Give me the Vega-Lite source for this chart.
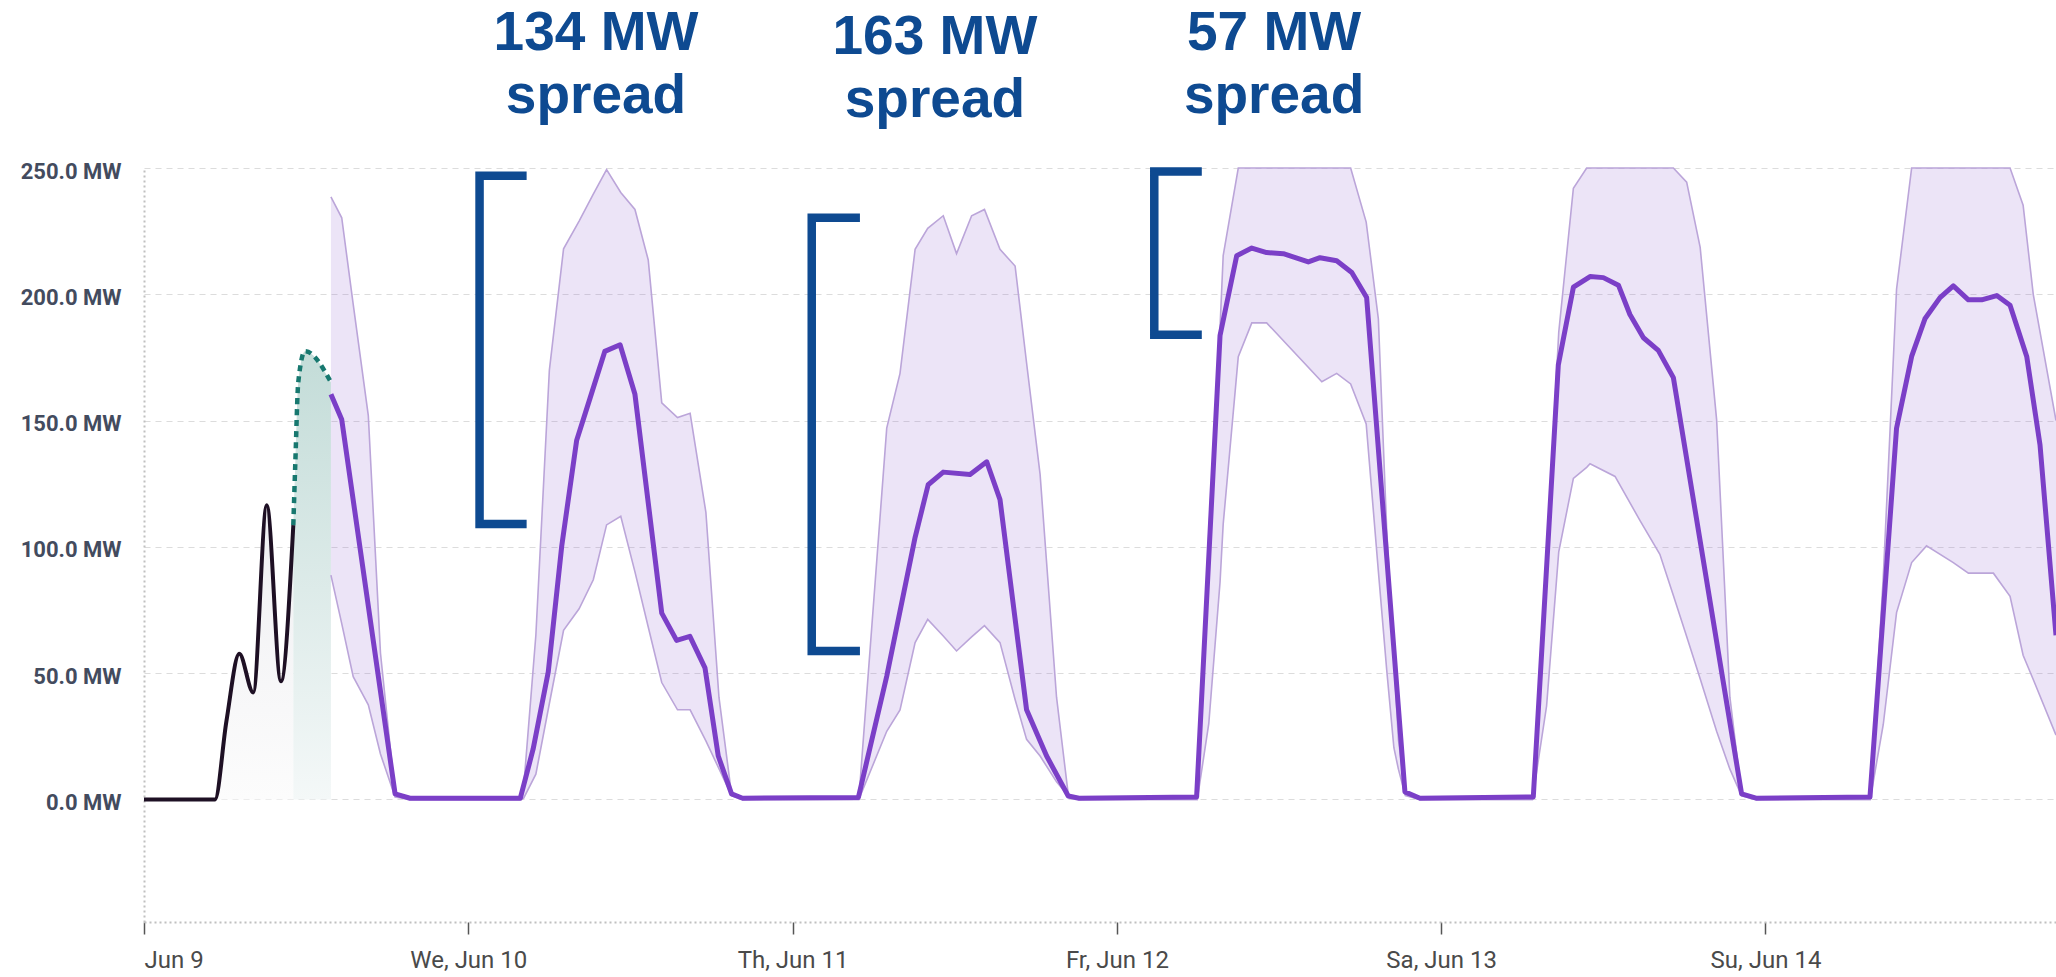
{
  "$schema": "https://vega.github.io/schema/vega-lite/v6.json",
  "width": 1912,
  "height": 754,
  "autosize": {"type": "none"},
  "padding": {"left": 144, "top": 168, "right": 0, "bottom": 55},
  "background": "white",
  "config": {
    "view": {"stroke": null},
    "axisY": {
      "grid": true,
      "gridColor": "#dcdcdc",
      "gridDash": [6, 5],
      "gridWidth": 1.2,
      "domain": true,
      "domainColor": "#c0c0c0",
      "domainDash": [2, 3],
      "domainWidth": 2,
      "ticks": false,
      "tickSize": 0,
      "labelPadding": 23,
      "labelFont": "Roboto",
      "labelFontSize": 22,
      "labelFontWeight": "bold",
      "labelColor": "#434b5e",
      "labelOffset": 3
    }
  },
  "datasets": {
    "actual": [
      {"t": "2020-06-09T00:00:00", "v": 0},
      {"t": "2020-06-09T05:15:00", "v": 0},
      {"t": "2020-06-09T06:06:00", "v": 31},
      {"t": "2020-06-09T07:03:00", "v": 57.7},
      {"t": "2020-06-09T08:05:00", "v": 42.4},
      {"t": "2020-06-09T09:05:00", "v": 116.5},
      {"t": "2020-06-09T10:08:00", "v": 46.8},
      {"t": "2020-06-09T11:03:00", "v": 108.6}
    ],
    "teal": [
      {"t": "2020-06-09T11:03:00", "v": 108.6},
      {"t": "2020-06-09T11:12:00", "v": 133.5},
      {"t": "2020-06-09T11:25:00", "v": 165.2},
      {"t": "2020-06-09T11:55:00", "v": 177.5},
      {"t": "2020-06-09T13:50:00", "v": 165.2}
    ],
    "median": [
      {"t": "2020-06-09T13:50:00", "v": 160.4},
      {"t": "2020-06-09T14:38:00", "v": 150.4},
      {"t": "2020-06-09T18:35:00", "v": 2.2},
      {"t": "2020-06-09T19:41:00", "v": 0.5},
      {"t": "2020-06-10T03:51:00", "v": 0.5},
      {"t": "2020-06-10T04:48:00", "v": 20},
      {"t": "2020-06-10T05:55:00", "v": 50.5},
      {"t": "2020-06-10T06:55:00", "v": 100.4},
      {"t": "2020-06-10T08:01:00", "v": 142.1},
      {"t": "2020-06-10T09:00:00", "v": 158.7},
      {"t": "2020-06-10T10:06:00", "v": 177.4},
      {"t": "2020-06-10T11:14:00", "v": 180},
      {"t": "2020-06-10T12:20:00", "v": 160.4},
      {"t": "2020-06-10T14:19:00", "v": 73.8},
      {"t": "2020-06-10T15:25:00", "v": 63},
      {"t": "2020-06-10T16:24:00", "v": 64.6},
      {"t": "2020-06-10T17:31:00", "v": 52.1},
      {"t": "2020-06-10T18:30:00", "v": 17.2},
      {"t": "2020-06-10T19:29:00", "v": 2.2},
      {"t": "2020-06-10T20:18:00", "v": 0.5},
      {"t": "2020-06-11T04:52:00", "v": 0.8},
      {"t": "2020-06-11T06:58:00", "v": 48.8},
      {"t": "2020-06-11T09:04:00", "v": 103.8},
      {"t": "2020-06-11T10:02:00", "v": 124.6},
      {"t": "2020-06-11T11:09:00", "v": 129.6},
      {"t": "2020-06-11T13:08:00", "v": 128.7},
      {"t": "2020-06-11T14:22:00", "v": 133.7},
      {"t": "2020-06-11T15:21:00", "v": 118.7},
      {"t": "2020-06-11T17:19:00", "v": 35.5},
      {"t": "2020-06-11T18:48:00", "v": 17.2},
      {"t": "2020-06-11T20:24:00", "v": 1.4},
      {"t": "2020-06-11T21:12:00", "v": 0.5},
      {"t": "2020-06-12T05:54:00", "v": 1},
      {"t": "2020-06-12T07:38:00", "v": 183.7},
      {"t": "2020-06-12T08:52:00", "v": 215.3},
      {"t": "2020-06-12T09:59:00", "v": 218.3},
      {"t": "2020-06-12T11:05:00", "v": 216.5},
      {"t": "2020-06-12T12:19:00", "v": 216.1},
      {"t": "2020-06-12T14:10:00", "v": 212.8},
      {"t": "2020-06-12T15:02:00", "v": 214.5},
      {"t": "2020-06-12T16:16:00", "v": 213.3},
      {"t": "2020-06-12T17:23:00", "v": 208.6},
      {"t": "2020-06-12T18:29:00", "v": 198.7},
      {"t": "2020-06-12T21:19:00", "v": 3},
      {"t": "2020-06-12T22:26:00", "v": 0.5},
      {"t": "2020-06-13T06:49:00", "v": 1},
      {"t": "2020-06-13T08:40:00", "v": 172},
      {"t": "2020-06-13T09:47:00", "v": 202.8},
      {"t": "2020-06-13T11:01:00", "v": 207},
      {"t": "2020-06-13T12:00:00", "v": 206.6},
      {"t": "2020-06-13T13:07:00", "v": 203.6},
      {"t": "2020-06-13T13:58:00", "v": 192},
      {"t": "2020-06-13T14:58:00", "v": 182.8},
      {"t": "2020-06-13T16:04:00", "v": 177.8},
      {"t": "2020-06-13T17:11:00", "v": 167},
      {"t": "2020-06-13T22:14:00", "v": 2.2},
      {"t": "2020-06-13T23:18:00", "v": 0.5},
      {"t": "2020-06-14T07:44:00", "v": 1},
      {"t": "2020-06-14T09:42:00", "v": 147},
      {"t": "2020-06-14T10:49:00", "v": 175.4},
      {"t": "2020-06-14T11:48:00", "v": 190.3},
      {"t": "2020-06-14T12:55:00", "v": 198.7},
      {"t": "2020-06-14T13:54:00", "v": 203.3},
      {"t": "2020-06-14T15:01:00", "v": 197.8},
      {"t": "2020-06-14T16:00:00", "v": 197.8},
      {"t": "2020-06-14T17:07:00", "v": 199.5},
      {"t": "2020-06-14T18:06:00", "v": 195.7},
      {"t": "2020-06-14T19:20:00", "v": 175.4},
      {"t": "2020-06-14T20:19:00", "v": 140.4},
      {"t": "2020-06-14T21:30:00", "v": 65}
    ],
    "band": [
      {"t": "2020-06-09T13:50:00", "hi": 238.6, "lo": 88.8},
      {"t": "2020-06-09T14:38:00", "hi": 230.3, "lo": 69.6},
      {"t": "2020-06-09T15:29:00", "hi": 196, "lo": 48.6},
      {"t": "2020-06-09T16:36:00", "hi": 152, "lo": 37.5},
      {"t": "2020-06-09T17:30:00", "hi": 58, "lo": 18},
      {"t": "2020-06-09T18:35:00", "hi": 2, "lo": 1},
      {"t": "2020-06-09T19:41:00", "hi": 0, "lo": 0},
      {"t": "2020-06-10T03:54:00", "hi": 0, "lo": 0},
      {"t": "2020-06-10T04:06:00", "hi": 5, "lo": 0.5},
      {"t": "2020-06-10T05:00:00", "hi": 65, "lo": 10},
      {"t": "2020-06-10T06:00:00", "hi": 170, "lo": 38},
      {"t": "2020-06-10T07:03:00", "hi": 218, "lo": 67},
      {"t": "2020-06-10T08:12:00", "hi": 229, "lo": 75.5},
      {"t": "2020-06-10T09:15:00", "hi": 239.7, "lo": 87},
      {"t": "2020-06-10T10:14:00", "hi": 249.4, "lo": 108.7},
      {"t": "2020-06-10T11:17:00", "hi": 240.3, "lo": 112.1},
      {"t": "2020-06-10T12:20:00", "hi": 233.6, "lo": 90.1},
      {"t": "2020-06-10T13:19:00", "hi": 213.6, "lo": 68.3},
      {"t": "2020-06-10T14:19:00", "hi": 157, "lo": 46.3},
      {"t": "2020-06-10T15:29:00", "hi": 151.2, "lo": 35.5},
      {"t": "2020-06-10T16:25:00", "hi": 152.9, "lo": 35.5},
      {"t": "2020-06-10T17:35:00", "hi": 113.7, "lo": 23.2},
      {"t": "2020-06-10T18:33:00", "hi": 40.5, "lo": 12.2},
      {"t": "2020-06-10T19:29:00", "hi": 2, "lo": 1.5},
      {"t": "2020-06-10T20:18:00", "hi": 0, "lo": 0},
      {"t": "2020-06-11T04:54:00", "hi": 0, "lo": 0},
      {"t": "2020-06-11T06:58:00", "hi": 147, "lo": 27},
      {"t": "2020-06-11T07:57:00", "hi": 168.7, "lo": 35.5},
      {"t": "2020-06-11T09:04:00", "hi": 217.8, "lo": 62.1},
      {"t": "2020-06-11T10:00:00", "hi": 226.1, "lo": 71.3},
      {"t": "2020-06-11T11:09:00", "hi": 231.1, "lo": 64.7},
      {"t": "2020-06-11T12:08:00", "hi": 216.1, "lo": 58.8},
      {"t": "2020-06-11T13:15:00", "hi": 231.1, "lo": 64.4},
      {"t": "2020-06-11T14:12:00", "hi": 233.6, "lo": 68.8},
      {"t": "2020-06-11T15:21:00", "hi": 217.8, "lo": 62.1},
      {"t": "2020-06-11T16:28:00", "hi": 211.2, "lo": 39.6},
      {"t": "2020-06-11T17:19:00", "hi": 172.8, "lo": 23.8},
      {"t": "2020-06-11T18:19:00", "hi": 128.7, "lo": 17.2},
      {"t": "2020-06-11T19:32:00", "hi": 40.5, "lo": 7},
      {"t": "2020-06-11T20:24:00", "hi": 2, "lo": 1.5},
      {"t": "2020-06-11T21:12:00", "hi": 0, "lo": 0},
      {"t": "2020-06-12T05:57:00", "hi": 0, "lo": 0},
      {"t": "2020-06-12T06:48:00", "hi": 105, "lo": 30},
      {"t": "2020-06-12T07:38:00", "hi": 187, "lo": 86},
      {"t": "2020-06-12T07:52:00", "hi": 215.3, "lo": 109},
      {"t": "2020-06-12T08:59:00", "hi": 250, "lo": 175.3},
      {"t": "2020-06-12T09:59:00", "hi": 250, "lo": 188.7},
      {"t": "2020-06-12T11:05:00", "hi": 250, "lo": 188.7},
      {"t": "2020-06-12T15:10:00", "hi": 250, "lo": 165.4},
      {"t": "2020-06-12T16:16:00", "hi": 250, "lo": 168.7},
      {"t": "2020-06-12T17:18:00", "hi": 250, "lo": 164.5},
      {"t": "2020-06-12T18:27:00", "hi": 228.6, "lo": 148.7},
      {"t": "2020-06-12T19:21:00", "hi": 190.3, "lo": 90.4},
      {"t": "2020-06-12T19:58:00", "hi": 107, "lo": 51.4},
      {"t": "2020-06-12T20:30:00", "hi": 55.7, "lo": 20.5},
      {"t": "2020-06-12T20:50:00", "hi": 23.8, "lo": 12},
      {"t": "2020-06-12T21:21:00", "hi": 2, "lo": 1.5},
      {"t": "2020-06-12T22:24:00", "hi": 0, "lo": 0},
      {"t": "2020-06-13T06:45:00", "hi": 0, "lo": 0},
      {"t": "2020-06-13T07:48:00", "hi": 95, "lo": 37},
      {"t": "2020-06-13T08:42:00", "hi": 185, "lo": 98},
      {"t": "2020-06-13T09:47:00", "hi": 242, "lo": 127.1},
      {"t": "2020-06-13T10:46:00", "hi": 250, "lo": 131.5},
      {"t": "2020-06-13T11:01:00", "hi": 250, "lo": 132.9},
      {"t": "2020-06-13T12:52:00", "hi": 250, "lo": 127.9},
      {"t": "2020-06-13T14:43:00", "hi": 250, "lo": 110.4},
      {"t": "2020-06-13T16:11:00", "hi": 250, "lo": 97.1},
      {"t": "2020-06-13T17:11:00", "hi": 250, "lo": 80.8},
      {"t": "2020-06-13T18:10:00", "hi": 244.4, "lo": 64.5},
      {"t": "2020-06-13T19:10:00", "hi": 218.6, "lo": 47.8},
      {"t": "2020-06-13T20:23:00", "hi": 150.4, "lo": 27},
      {"t": "2020-06-13T21:22:00", "hi": 40.5, "lo": 12},
      {"t": "2020-06-13T22:14:00", "hi": 2, "lo": 1.5},
      {"t": "2020-06-13T23:18:00", "hi": 0, "lo": 0},
      {"t": "2020-06-14T07:45:00", "hi": 0, "lo": 0},
      {"t": "2020-06-14T08:43:00", "hi": 88, "lo": 29.7},
      {"t": "2020-06-14T09:42:00", "hi": 202, "lo": 74},
      {"t": "2020-06-14T10:49:00", "hi": 250, "lo": 93.8},
      {"t": "2020-06-14T11:55:00", "hi": 250, "lo": 100.4},
      {"t": "2020-06-14T13:54:00", "hi": 250, "lo": 93.8},
      {"t": "2020-06-14T15:01:00", "hi": 250, "lo": 89.6},
      {"t": "2020-06-14T16:52:00", "hi": 250, "lo": 89.6},
      {"t": "2020-06-14T18:06:00", "hi": 250, "lo": 80.4},
      {"t": "2020-06-14T19:04:00", "hi": 235.3, "lo": 57.1},
      {"t": "2020-06-14T19:49:00", "hi": 200, "lo": 47.5},
      {"t": "2020-06-14T21:30:00", "hi": 150, "lo": 25.5}
    ],
    "days": [
      {"t": "2020-06-10T00:00:00"},
      {"t": "2020-06-11T00:00:00"},
      {"t": "2020-06-12T00:00:00"},
      {"t": "2020-06-13T00:00:00"},
      {"t": "2020-06-14T00:00:00"}
    ],
    "brackets": [
      {"b": 1, "o": 0, "t": "2020-06-10T04:19:00", "v": 246.9},
      {"b": 1, "o": 1, "t": "2020-06-10T00:50:00", "v": 246.9},
      {"b": 1, "o": 2, "t": "2020-06-10T00:50:00", "v": 109.1},
      {"b": 1, "o": 3, "t": "2020-06-10T04:19:00", "v": 109.1},
      {"b": 2, "o": 0, "t": "2020-06-11T04:59:00", "v": 230.3},
      {"b": 2, "o": 1, "t": "2020-06-11T01:25:00", "v": 230.3},
      {"b": 2, "o": 2, "t": "2020-06-11T01:25:00", "v": 58.8},
      {"b": 2, "o": 3, "t": "2020-06-11T04:59:00", "v": 58.8},
      {"b": 3, "o": 0, "t": "2020-06-12T06:17:00", "v": 248.6},
      {"b": 3, "o": 1, "t": "2020-06-12T02:46:00", "v": 248.6},
      {"b": 3, "o": 2, "t": "2020-06-12T02:46:00", "v": 184},
      {"b": 3, "o": 3, "t": "2020-06-12T06:17:00", "v": 184}
    ],
    "labels": [
      {"t": "2020-06-10T09:27:00", "v": 296.8, "label": "134 MW"},
      {"t": "2020-06-10T09:27:00", "v": 271.6, "label": "spread"},
      {"t": "2020-06-11T10:32:00", "v": 295.2, "label": "163 MW"},
      {"t": "2020-06-11T10:32:00", "v": 270.1, "label": "spread"},
      {"t": "2020-06-12T11:38:00", "v": 296.8, "label": "57 MW"},
      {"t": "2020-06-12T11:38:00", "v": 271.6, "label": "spread"}
    ]
  },
  "encoding": {
    "x": {
      "field": "t",
      "type": "temporal",
      "scale": {
        "domain": [
          {"year": 2020, "month": "jun", "date": 9},
          {"year": 2020, "month": "jun", "date": 14, "hours": 21, "minutes": 30}
        ]
      },
      "axis": {
        "title": null,
        "values": [
          {"year": 2020, "month": "jun", "date": 9},
          {"year": 2020, "month": "jun", "date": 10},
          {"year": 2020, "month": "jun", "date": 11},
          {"year": 2020, "month": "jun", "date": 12},
          {"year": 2020, "month": "jun", "date": 13},
          {"year": 2020, "month": "jun", "date": 14}
        ],
        "labelExpr": "date(datum.value) == 9 ? timeFormat(datum.value, '%b %-d') : substring(timeFormat(datum.value, '%a'), 0, 2) + ', ' + timeFormat(datum.value, '%b %-d')",
        "labelFlush": true,
        "labelOverlap": false,
        "labelFont": "Roboto",
        "labelFontSize": 24,
        "labelColor": "#4a4a4a",
        "labelPadding": 14,
        "tickSize": 12,
        "tickColor": "#555555",
        "tickWidth": 1.5,
        "domainColor": "#c0c0c0",
        "domainDash": [2, 3],
        "domainWidth": 2,
        "grid": false
      }
    },
    "y": {
      "field": "v",
      "type": "quantitative",
      "scale": {"domain": [-48.5, 250], "nice": false, "zero": false},
      "axis": {
        "title": null,
        "values": [0, 50, 100, 150, 200, 250],
        "labelExpr": "format(datum.value, '.1f') + ' MW'"
      }
    }
  },
  "layer": [
    {
      "data": {"name": "actual"},
      "mark": {
        "type": "area",
        "interpolate": "monotone",
        "color": {
          "gradient": "linear", "x1": 0, "y1": 0, "x2": 0, "y2": 1,
          "stops": [{"offset": 0, "color": "#efeff2"}, {"offset": 1, "color": "#fcfcfc"}]
        }
      },
      "encoding": {"y2": {"datum": 0}}
    },
    {
      "data": {"name": "teal"},
      "mark": {
        "type": "area",
        "interpolate": "monotone",
        "color": {
          "gradient": "linear", "x1": 0, "y1": 0, "x2": 0, "y2": 1,
          "stops": [{"offset": 0, "color": "#c3dcd8"}, {"offset": 1, "color": "#f4f8f8"}]
        }
      },
      "encoding": {"y2": {"datum": 0}}
    },
    {
      "data": {"name": "days"},
      "mark": {"type": "rule", "color": "#c4c4c4", "strokeDash": [2, 3], "strokeWidth": 1.5},
      "encoding": {
        "y": {
          "datum": -10.7,
          "type": "quantitative",
          "scale": {"domain": [-48.5, 250], "nice": false, "zero": false},
          "axis": {"title": null, "values": [0, 50, 100, 150, 200, 250], "labelExpr": "format(datum.value, '.1f') + ' MW'"}
        },
        "y2": {"datum": -48.5}
      }
    },
    {
      "data": {"name": "band"},
      "mark": {"type": "area", "color": "#8c5fd0", "opacity": 0.17},
      "encoding": {
        "y": {
          "field": "hi",
          "type": "quantitative",
          "scale": {"domain": [-48.5, 250], "nice": false, "zero": false},
          "axis": {"title": null, "values": [0, 50, 100, 150, 200, 250], "labelExpr": "format(datum.value, '.1f') + ' MW'"}
        },
        "y2": {"field": "lo"}
      }
    },
    {
      "data": {"name": "band"},
      "mark": {"type": "line", "color": "#bba5d9", "strokeWidth": 1.6},
      "encoding": {
        "y": {
          "field": "hi",
          "type": "quantitative",
          "scale": {"domain": [-48.5, 250], "nice": false, "zero": false},
          "axis": {"title": null, "values": [0, 50, 100, 150, 200, 250], "labelExpr": "format(datum.value, '.1f') + ' MW'"}
        }
      }
    },
    {
      "data": {"name": "band"},
      "mark": {"type": "line", "color": "#bba5d9", "strokeWidth": 1.6},
      "encoding": {
        "y": {
          "field": "lo",
          "type": "quantitative",
          "scale": {"domain": [-48.5, 250], "nice": false, "zero": false},
          "axis": {"title": null, "values": [0, 50, 100, 150, 200, 250], "labelExpr": "format(datum.value, '.1f') + ' MW'"}
        }
      }
    },
    {
      "data": {"name": "actual"},
      "mark": {"type": "line", "interpolate": "monotone", "color": "#1e1024", "strokeWidth": 4}
    },
    {
      "data": {"name": "teal"},
      "mark": {"type": "line", "interpolate": "monotone", "color": "#17786f", "strokeWidth": 4.5, "strokeDash": [6, 5]}
    },
    {
      "data": {"name": "median"},
      "mark": {"type": "line", "color": "#7b3fc7", "strokeWidth": 5, "strokeJoin": "round"}
    },
    {
      "data": {"name": "brackets"},
      "mark": {"type": "line", "color": "#0e4a91", "strokeWidth": 8.5, "strokeJoin": "miter", "strokeCap": "butt"},
      "encoding": {
        "detail": {"field": "b", "type": "nominal"},
        "order": {"field": "o", "type": "quantitative"}
      }
    },
    {
      "data": {"name": "labels"},
      "mark": {"type": "text", "font": "Liberation Sans", "fontWeight": "bold", "fontSize": 55, "color": "#0e4a91", "align": "center", "baseline": "alphabetic"},
      "encoding": {
        "text": {"field": "label", "type": "nominal"}
      }
    }
  ]
}
